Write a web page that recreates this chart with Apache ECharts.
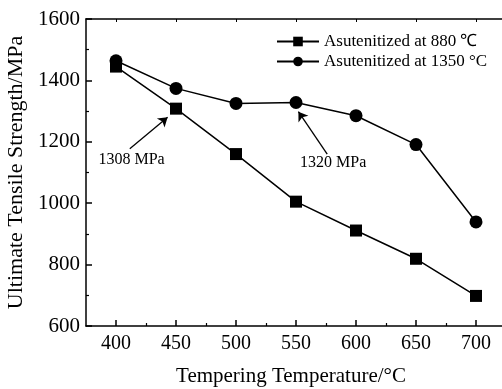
<!DOCTYPE html>
<html>
<head>
<meta charset="utf-8">
<script src="https://cdn.jsdelivr.net/npm/echarts@6/dist/echarts.min.js"></script>
<style>
html,body{margin:0;padding:0;background:#fff;}
#main{width:502px;height:389px;}
</style>
</head>
<body>
<div id="main"></div>
<script>
// data
var temps = [400, 450, 500, 550, 600, 650, 700];
var uts880 = [1445, 1308, 1160, 1005, 911, 819, 698];
var uts1350 = [1464, 1374, 1325, 1328, 1285, 1191, 939];
var xTicks = [400, 450, 500, 550, 600, 650, 700];
var xMinorTicks = [425, 475, 525, 575, 625, 675];
var seriesNames = ['Asutenitized at 880 \u2103', 'Asutenitized at 1350 \u00b0C'];

var font = '"Liberation Serif", "Times New Roman", serif';

function pairs(xs, ys) {
    return xs.map(function (x, i) { return [x, ys[i]]; });
}

var myChart = echarts.init(document.getElementById('main'));
var option = {
    animation: false,
    grid: {
        left: 86,
        top: 19,
        right: -4,
        bottom: 63,
        outerBoundsMode: 'none'
    },
    legend: {
        orient: 'vertical',
        left: 271,
        top: 28,
        itemWidth: 42,
        itemHeight: 12,
        itemGap: 3,
        data: seriesNames,
        textStyle: {
            fontFamily: font,
            fontSize: 17,
            color: '#000'
        }
    },
    xAxis: [
        {
            type: 'value',
            min: 375,
            max: 725,
            name: 'Tempering Temperature/\u00b0C',
            nameLocation: 'middle',
            nameGap: 40,
            nameTextStyle: {
                fontFamily: font,
                fontSize: 21,
                color: '#000',
                padding: [0, 10, 0, 0]
            },
            axisLine: { lineStyle: { color: '#000', width: 1.5 } },
            axisTick: {
                inside: true,
                length: 6,
                customValues: xTicks,
                lineStyle: { color: '#000', width: 1.5 }
            },
            axisLabel: {
                customValues: xTicks,
                margin: 8,
                fontFamily: font,
                fontSize: 20,
                color: '#000'
            },
            splitLine: { show: false }
        },
        {
            // minor ticks
            type: 'value',
            position: 'bottom',
            min: 375,
            max: 725,
            axisLine: { show: false },
            axisTick: {
                inside: true,
                length: 3,
                customValues: xMinorTicks,
                lineStyle: { color: '#000', width: 1.2 }
            },
            axisLabel: { show: false },
            splitLine: { show: false }
        },
        {
            // top frame
            type: 'value',
            position: 'top',
            min: 375,
            max: 725,
            axisLine: { lineStyle: { color: '#000', width: 1.5 } },
            axisTick: {
                inside: true,
                length: 3,
                customValues: xTicks,
                lineStyle: { color: '#000', width: 1 }
            },
            axisLabel: { show: false },
            splitLine: { show: false }
        }
    ],
    yAxis: {
        type: 'value',
        min: 600,
        max: 1600,
        interval: 200,
        name: 'Ultimate Tensile Strength/MPa',
        nameLocation: 'middle',
        nameGap: 44,
        nameTextStyle: {
            fontFamily: font,
            fontSize: 22,
            color: '#000'
        },
        axisLine: { show: true, lineStyle: { color: '#000', width: 1.5 } },
        axisTick: {
            inside: true,
            length: 6,
            lineStyle: { color: '#000', width: 1.5 }
        },
        minorTick: {
            show: true,
            splitNumber: 2,
            length: 3,
            lineStyle: { color: '#000', width: 1.2 }
        },
        axisLabel: {
            margin: 6,
            formatter: function (v) { return String(v); },
            fontFamily: font,
            fontSize: 21,
            color: '#000'
        },
        splitLine: { show: false }
    },
    series: [
        {
            name: seriesNames[0],
            type: 'line',
            symbol: 'rect',
            symbolSize: 12,
            lineStyle: { color: '#000', width: 1.5 },
            itemStyle: { color: '#000' },
            data: pairs(temps, uts880),
            markLine: {
                silent: true,
                symbol: ['none', 'arrow'],
                symbolSize: 9,
                lineStyle: { color: '#000', width: 1.3, type: 'solid' },
                label: { show: false },
                data: [
                    [{ coord: [411.5, 1177] }, { coord: [443, 1280] }]
                ]
            },
            markPoint: {
                silent: true,
                symbol: 'circle',
                symbolSize: 0,
                label: {
                    show: true,
                    formatter: '1308 MPa',
                    fontFamily: font,
                    fontSize: 16,
                    color: '#000'
                },
                data: [{ coord: [413, 1141] }]
            }
        },
        {
            name: seriesNames[1],
            type: 'line',
            symbol: 'circle',
            symbolSize: 13,
            lineStyle: { color: '#000', width: 1.5 },
            itemStyle: { color: '#000' },
            data: pairs(temps, uts1350),
            markLine: {
                silent: true,
                symbol: ['none', 'arrow'],
                symbolSize: 9,
                lineStyle: { color: '#000', width: 1.3, type: 'solid' },
                label: { show: false },
                data: [
                    [{ coord: [576, 1160] }, { coord: [552, 1298] }]
                ]
            },
            markPoint: {
                silent: true,
                symbol: 'circle',
                symbolSize: 0,
                label: {
                    show: true,
                    formatter: '1320 MPa',
                    fontFamily: font,
                    fontSize: 16,
                    color: '#000'
                },
                data: [{ coord: [581, 1131] }]
            }
        }
    ]
};
myChart.setOption(option);
</script>
</body>
</html>
